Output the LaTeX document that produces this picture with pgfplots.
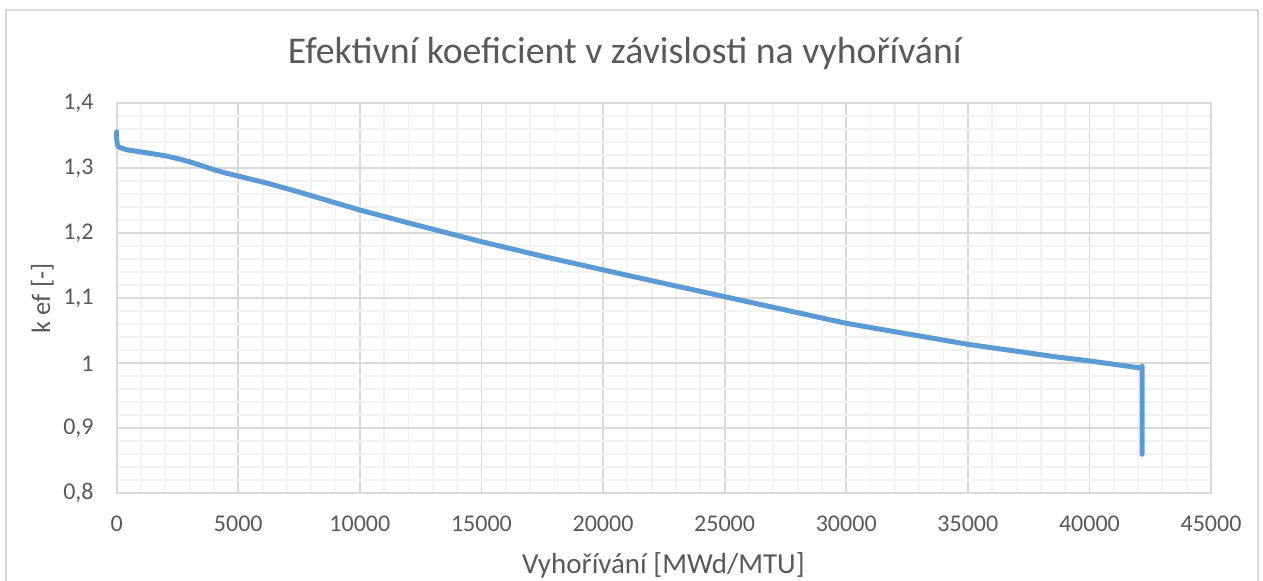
\documentclass[border=0pt]{standalone}
\usepackage{pgfplots}
\pgfplotsset{compat=1.18}
\usepackage{fontspec}
\setmainfont{Carlito}
\definecolor{txt}{HTML}{595959}
\definecolor{maj}{HTML}{D9D9D9}
\definecolor{mnr}{HTML}{F2F2F2}
\definecolor{ser}{HTML}{5B9BD5}
\pgfplotstableread{
x y
0 1.356
0 1.345
30 1.336
100 1.3325
400 1.3285
1000 1.3252
2000 1.3192
2500 1.3150
3000 1.3100
3500 1.3040
4000 1.2978
4500 1.2925
5000 1.2880
6200 1.2770
7400 1.2645
8800 1.2490
10000 1.2358
12200 1.2140
15000 1.1871
17700 1.1630
20000 1.1437
21100 1.1345
25000 1.1025
30000 1.0615
35000 1.0292
38700 1.0095
40000 1.0037
42150 0.9925
42165 0.9955
42165 0.8600
}\kef
\begin{document}
\begin{tikzpicture}
\path[use as bounding box] (0,0) rectangle (631.5pt,290.5pt);
\begin{scope}
\clip (0,0) rectangle (631.5pt,290.5pt);
\draw[maj, line width=1pt] (3pt,-10pt) rectangle (629pt,285.5pt);
\end{scope}
\begin{axis}[
  at={(58.35pt,43.85pt)}, anchor=south west,
  scale only axis, width=547.15pt, height=195pt,
  xmin=0, xmax=45000, ymin=0.8, ymax=1.4,
  xtick={0,5000,...,45000}, ytick={0.8,0.9,...,1.41},
  minor x tick num=4, minor y tick num=4,
  grid=both,
  major grid style={maj, line width=0.9pt},
  minor grid style={mnr, line width=0.9pt},
  axis line style={maj, line width=0.9pt},
  tick style={draw=none},
  scaled ticks=false,
  /pgf/number format/assume math mode=true,
  xticklabel style={/pgf/number format/1000 sep={}, font=\fontsize{12}{14}\selectfont, text=txt, yshift=-8pt},
  yticklabel style={/pgf/number format/use comma, font=\fontsize{12}{14}\selectfont, text=txt, xshift=-8pt},
  clip=false,
]
\addplot[ser, line width=2.5pt, line cap=round, line join=round] table[x=x,y=y] {\kef};
\end{axis}
\node[text=txt, font=\fontsize{18.9}{22}\selectfont] at (312.4pt,264pt) {Efektivní koeficient v závislosti na vyhořívání};
\node[text=txt, font=\fontsize{14.5}{17}\selectfont, anchor=base] at (331.7pt,3.5pt) {Vyhořívání [MWd/MTU]};
\node[text=txt, font=\fontsize{13.3}{16}\selectfont, rotate=90, anchor=base] at (25pt,141.3pt) {k ef [-]};
\end{tikzpicture}
\end{document}
